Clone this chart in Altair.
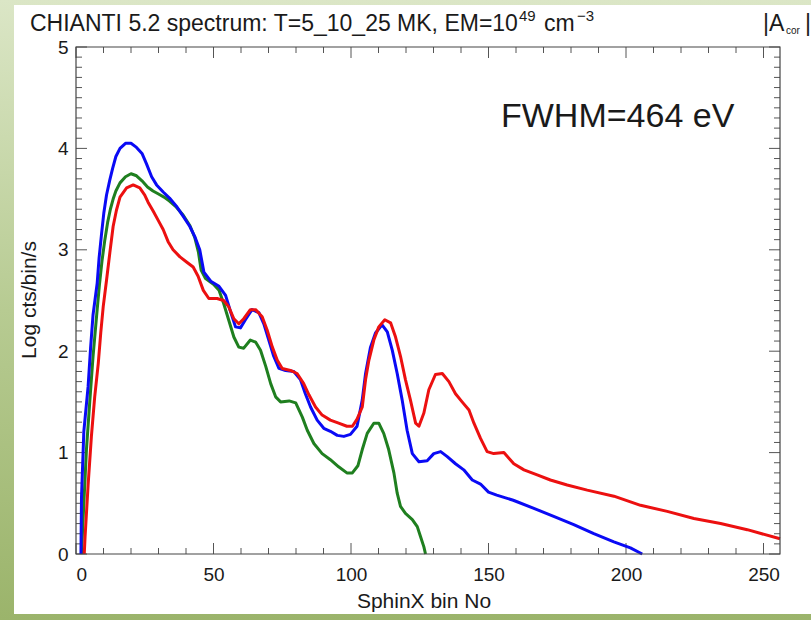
import altair as alt
import pandas as pd

# ---------------- data ----------------
green_bin = [2, 2.5, 3.8, 5, 6.2, 7.5, 8.5, 9.5, 10.5, 11.5, 12.5, 13.5, 14.5, 16, 18, 20, 22, 24, 26, 28, 30,
             32, 34, 36.5, 39, 41.4, 43.2, 44.5, 45.5, 47, 50, 52, 53.7, 55.5, 57.4, 59.2, 61, 63.4, 65.3, 67.1,
             69, 70.8, 72.6, 74.4, 77.5, 79.9, 82.3, 84.1, 86.5, 89.5, 92.5, 95.5, 98.5, 100.5, 102.5, 104.1,
             105.9, 108.3, 110.1, 111.9, 113.7, 115.6, 116.8, 118, 119.8, 122.3, 124.1, 125.3, 126.5, 127.1]
green_val = [0, 0.3, 1.03, 1.5, 1.95, 2.35, 2.65, 2.9, 3.1, 3.27, 3.4, 3.5, 3.58, 3.66, 3.72, 3.75, 3.73, 3.68,
             3.62, 3.58, 3.55, 3.52, 3.48, 3.42, 3.34, 3.24, 3.12, 2.98, 2.80, 2.72, 2.66, 2.60, 2.47, 2.31, 2.14,
             2.04, 2.03, 2.11, 2.09, 2.01, 1.85, 1.68, 1.55, 1.50, 1.51, 1.49, 1.35, 1.22, 1.09, 0.99, 0.93, 0.86,
             0.80, 0.80, 0.87, 1.03, 1.19, 1.29, 1.29, 1.19, 1.03, 0.80, 0.60, 0.47, 0.40, 0.34, 0.27, 0.17, 0.07, 0]

blue_bin = [1.8, 2.0, 2.85, 4.4, 5.3, 6.2, 7.7, 8.4, 9.3, 10.1, 11.1, 12.3, 13.3, 14.5, 16, 18, 20, 22, 24, 25.6,
            27.5, 29.3, 31.7, 34, 36.5, 39, 41.4, 43.2, 45, 46.5, 49, 52, 54.4, 56.2, 58, 59.8, 61.6, 64, 66.5,
            68.3, 70.1, 71.9, 73.8, 76.2, 79.2, 81.6, 83.4, 85.3, 87.7, 90.1, 92.5, 95, 97.4, 99.8, 102.2, 104.1,
            105.3, 107.1, 108.9, 111.3, 113.2, 115, 116.8, 118.6, 120.4, 122.3, 124.7, 127.7, 130.1, 132.6, 135,
            138, 141, 144.1, 147.1, 150, 153, 159, 166.5, 173.7, 181, 188.3, 195.6, 201.6, 205.9]
blue_val = [0, 0.56, 1.21, 1.65, 2.03, 2.36, 2.67, 2.92, 3.16, 3.36, 3.54, 3.69, 3.80, 3.92, 4.00, 4.05, 4.05,
            4.01, 3.95, 3.85, 3.72, 3.64, 3.57, 3.51, 3.43, 3.33, 3.23, 3.13, 3.00, 2.78, 2.69, 2.64, 2.55, 2.39,
            2.24, 2.23, 2.31, 2.41, 2.38, 2.27, 2.11, 1.95, 1.83, 1.81, 1.80, 1.72, 1.58, 1.45, 1.32, 1.24, 1.21,
            1.17, 1.16, 1.18, 1.26, 1.52, 1.78, 2.04, 2.18, 2.26, 2.19, 2.01, 1.78, 1.52, 1.22, 0.99, 0.91, 0.92,
            0.99, 1.01, 0.96, 0.89, 0.83, 0.73, 0.69, 0.61, 0.58, 0.53, 0.45, 0.37, 0.29, 0.20, 0.12, 0.06, 0]

red_bin = [3, 3.3, 4.4, 5.6, 6.8, 8.1, 9, 9.9, 11.1, 12.3, 13.5, 14.7, 16, 18.4, 20.8, 23.2, 25, 26.2, 28.1, 29.9,
           31.7, 33.5, 35.3, 37.8, 40.2, 42.6, 44.4, 46.3, 48.3, 51.3, 53.7, 55.5, 57.4, 59.2, 61, 63.4, 65.3,
           67.7, 69.5, 71.4, 73.2, 75, 78, 80.4, 82.8, 84.7, 87.1, 89.5, 92.5, 95.5, 98.5, 100.5, 102.2, 104.1,
           105.3, 106.5, 108.3, 110.1, 112.3, 114.4, 116.2, 118, 119.8, 121.6, 123.5, 124.7, 126.5, 128.3, 130.7,
           133.2, 135.6, 138, 140.4, 142.9, 144.7, 147.1, 149.5, 151.9, 155.6, 159.2, 162.9, 167.7, 172.5, 178.6,
           185.9, 195.6, 205.3, 215, 224.7, 234.4, 244.1, 256]
red_val = [0, 0.17, 0.68, 1.16, 1.55, 1.88, 2.18, 2.44, 2.70, 2.97, 3.23, 3.39, 3.52, 3.61, 3.64, 3.61, 3.54,
           3.47, 3.38, 3.29, 3.20, 3.08, 3.00, 2.93, 2.88, 2.83, 2.74, 2.60, 2.52, 2.52, 2.50, 2.44, 2.32, 2.27,
           2.32, 2.41, 2.41, 2.34, 2.21, 2.04, 1.91, 1.83, 1.81, 1.78, 1.68, 1.57, 1.45, 1.37, 1.32, 1.29, 1.26,
           1.26, 1.33, 1.45, 1.72, 1.91, 2.11, 2.24, 2.31, 2.28, 2.14, 1.95, 1.72, 1.52, 1.29, 1.26, 1.39, 1.62,
           1.77, 1.78, 1.70, 1.58, 1.50, 1.42, 1.29, 1.14, 1.01, 0.99, 1.00, 0.89, 0.83, 0.78, 0.73, 0.68, 0.63,
           0.57, 0.48, 0.42, 0.35, 0.30, 0.24, 0.15]

x_major = [0, 50, 100, 150, 200, 250]
x_minor = [v for v in range(10, 256, 10) if v % 50 != 0]
y_major = [0, 1, 2, 3, 4, 5]
y_minor = [round(i * 0.1, 1) for i in range(1, 50) if i % 10 != 0]

title_main = "CHIANTI 5.2 spectrum: T=5_10_25 MK, EM=10"
title_sup1 = "49"
title_cm = "cm"
title_sup2 = "\u22123"
title_abs = "|A"
title_sub = "cor"
title_bar = "|"
fwhm_text = "FWHM=464 eV"
x_title = "SphinX bin No"
y_title = "Log cts/bin/s"

# ---------------- layout ----------------
W, H = 704, 507
PL, PT, PR, PB = 76, 47, 31, 66
FONT = "Liberation Sans"
TXT = "#1a1a1a"

xs = alt.Scale(domain=[0, 256], nice=False, zero=False)
ys = alt.Scale(domain=[0, 5], nice=False, zero=False)
X_AX = alt.Axis(values=x_major, ticks=False, domain=False, grid=False, title=None, labelFontSize=19,
                labelFont=FONT, labelColor=TXT, labelPadding=11, format="d", zindex=2)
Y_AX = alt.Axis(values=y_major, ticks=False, domain=False, grid=False, title=None, labelFontSize=19,
                labelFont=FONT, labelColor=TXT, labelPadding=8, format="d", zindex=2)

one = pd.DataFrame({"k": [0]})

bg = alt.Chart(one).mark_rect(
    color=alt.Gradient(gradient="linear",
                       stops=[alt.GradientStop(color="#dbe6c6", offset=0),
                              alt.GradientStop(color="#b7cb92", offset=0.5),
                              alt.GradientStop(color="#9bb46b", offset=1)],
                       x1=0, x2=0, y1=0, y2=1)
).encode(x=alt.value(-PL), x2=alt.value(W + PR), y=alt.value(-PT), y2=alt.value(H + PB))

white = alt.Chart(one).mark_rect(color="white").encode(
    x=alt.value(14 - PL), x2=alt.value(W + PR), y=alt.value(5 - PT), y2=alt.value(614 - PT))


def line_layer(bins, vals, color):
    df = pd.DataFrame({"bin": bins, "val": vals})
    return alt.Chart(df).mark_line(color=color, strokeWidth=3, strokeJoin="round").encode(
        x=alt.X("bin:Q", scale=xs, axis=X_AX),
        y=alt.Y("val:Q", scale=ys, axis=Y_AX),
        order="bin:Q")


def xticks(vals, length):
    df = pd.DataFrame({"t": vals})
    bot = alt.Chart(df).mark_rule(color="#555", strokeWidth=1).encode(
        x=alt.X("t:Q", scale=xs, axis=X_AX), y=alt.value(H), y2=alt.value(H - length))
    top = alt.Chart(df).mark_rule(color="#555", strokeWidth=1).encode(
        x=alt.X("t:Q", scale=xs, axis=X_AX), y=alt.value(0), y2=alt.value(length))
    return [bot, top]


def yticks(vals, length):
    df = pd.DataFrame({"t": vals})
    left = alt.Chart(df).mark_rule(color="#555", strokeWidth=1).encode(
        y=alt.Y("t:Q", scale=ys, axis=Y_AX), x=alt.value(0), x2=alt.value(length))
    right = alt.Chart(df).mark_rule(color="#555", strokeWidth=1).encode(
        y=alt.Y("t:Q", scale=ys, axis=Y_AX), x=alt.value(W), x2=alt.value(W - length))
    return [left, right]


frame = alt.Chart(one).mark_rect(fill=None, stroke="#444", strokeWidth=1.2).encode(
    x=alt.value(0), x2=alt.value(W), y=alt.value(0), y2=alt.value(H))


def text(s, x, y, size, align="left", baseline="alphabetic", angle=0):
    kw = dict(text=s, align=align, baseline=baseline, font=FONT, fontSize=size, color=TXT)
    if angle:
        kw["angle"] = angle
    return alt.Chart(one).mark_text(**kw).encode(x=alt.value(x - PL), y=alt.value(y - PT))


texts = [
    text(title_main, 30, 31, 23),
    text(title_sup1, 519, 21, 15),
    text(title_cm, 544, 31, 23),
    text(title_sup2, 577, 21, 15),
    text(title_abs, 763, 31, 23),
    text(title_sub, 786, 34, 10),
    text(title_bar, 805, 31, 23),
    text(fwhm_text, 501, 127, 34),
    text(x_title, 424, 602, 21, align="center", baseline="middle"),
    text(y_title, 30, 300, 21, align="center", baseline="middle", angle=270),
]

layers = [bg, white]
layers += xticks(x_major, 11) + xticks(x_minor, 6) + yticks(y_major, 11) + yticks(y_minor, 6)
layers += [line_layer(green_bin, green_val, "#1f7f1f"),
           line_layer(blue_bin, blue_val, "#0a0af5"),
           line_layer(red_bin, red_val, "#ec1010"),
           frame]
layers += texts

chart = alt.layer(*layers).properties(
    width=W, height=H,
    autosize=alt.AutoSizeParams(type="none"),
    padding={"left": PL, "top": PT, "right": PR, "bottom": PB},
).configure_view(stroke=None).configure(background="#b7cb92")

chart.save("out.html", embed_options={"renderer": "svg", "actions": False})
